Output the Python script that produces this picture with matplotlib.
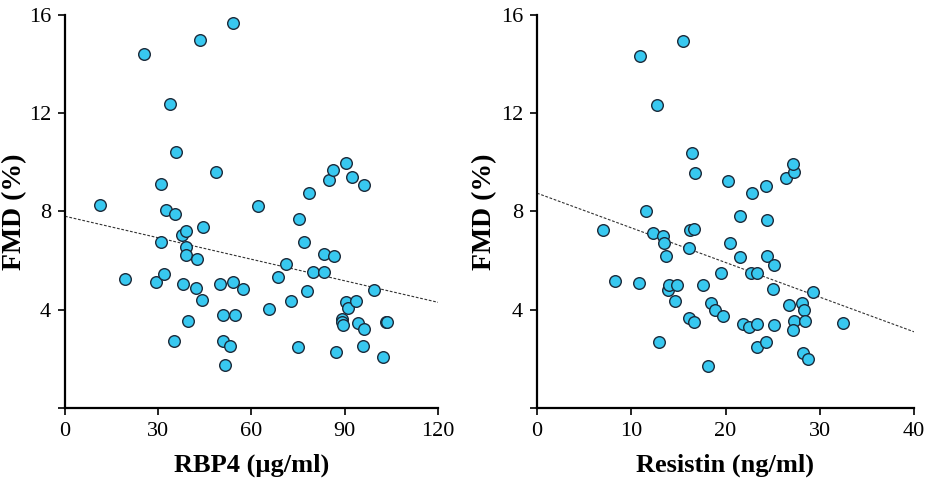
import numpy as np
import matplotlib
matplotlib.use("Agg")
import matplotlib.pyplot as plt

# RBP4 panel
rbp4 = [25.4, 43.4, 54.1, 33.9, 35.6, 48.6, 30.8, 11.4, 32.6, 35.3, 62.0, 44.4,
        37.7, 38.9, 30.8, 38.9, 38.9, 42.6, 19.2, 29.4, 31.9, 37.9, 42.1, 44.1,
        49.8, 53.9, 57.3, 39.5, 50.8, 54.7, 35.1, 50.9, 53.1, 51.4, 65.6, 68.5,
        71.0, 72.6, 75.1, 75.3, 76.8, 78.5, 77.9, 79.7, 83.2, 83.3, 84.9, 86.3,
        86.6, 87.2, 90.4, 92.3, 96.1, 90.5, 91.0, 93.5, 89.0, 89.2, 89.4, 94.2,
        96.1, 95.8, 99.3, 103.3, 103.6, 102.4]
fmd_rbp4 = [14.39, 14.97, 15.67, 12.38, 10.43, 9.59, 9.10, 8.27, 8.07, 7.88, 8.20, 7.35,
            7.04, 7.20, 6.77, 6.56, 6.22, 6.05, 5.26, 5.13, 5.46, 5.06, 4.88, 4.41,
            5.06, 5.11, 4.85, 3.55, 3.77, 3.80, 2.74, 2.74, 2.52, 1.74, 4.04, 5.34,
            5.84, 4.35, 2.49, 7.70, 6.77, 8.76, 4.77, 5.55, 6.25, 5.55, 9.27, 9.67,
            6.20, 2.26, 9.98, 9.38, 9.06, 4.33, 4.05, 4.34, 3.62, 3.48, 3.38, 3.47,
            3.23, 2.54, 4.80, 3.48, 3.48, 2.07]
fit_rbp4 = (7.80, 4.30)  # y at x=0 and x=120

# Resistin panel
resistin = [10.96, 15.49, 12.70, 16.48, 16.80, 20.22, 22.77, 24.33, 26.38, 27.30, 27.20,
            11.53, 21.50, 24.40, 7.00, 12.31, 13.41, 13.51, 16.24, 16.64, 16.09, 20.47,
            13.69, 21.57, 24.40, 25.11, 19.49, 22.67, 23.34, 8.31, 10.86, 13.85, 13.97,
            14.89, 17.58, 14.61, 18.50, 18.89, 19.70, 25.00, 29.28, 26.70, 28.11, 28.33,
            16.09, 16.62, 21.82, 22.52, 23.34, 25.11, 27.30, 27.20, 28.40, 32.47, 12.94,
            23.38, 24.33, 28.18, 28.75, 18.15]
fmd_resistin = [14.31, 14.92, 12.34, 10.38, 9.54, 9.24, 8.73, 9.04, 9.34, 9.62, 9.93,
                8.00, 7.83, 7.65, 7.24, 7.10, 7.01, 6.72, 7.24, 7.30, 6.50, 6.72,
                6.19, 6.15, 6.19, 5.80, 5.50, 5.50, 5.50, 5.18, 5.08, 4.81, 5.02,
                5.00, 5.00, 4.36, 4.29, 3.99, 3.75, 4.85, 4.72, 4.21, 4.29, 3.98,
                3.68, 3.51, 3.40, 3.29, 3.43, 3.38, 3.52, 3.17, 3.53, 3.44, 2.69,
                2.49, 2.69, 2.22, 1.99, 1.69]
fit_resistin = (8.74, 3.10)  # y at x=0 and x=40

serif = ['Liberation Serif', 'DejaVu Serif']

fig = plt.figure(figsize=(9.28, 4.88), dpi=100)
ax1 = fig.add_axes([65 / 928, 80 / 488, 373 / 928, 393.3 / 488])
ax2 = fig.add_axes([537 / 928, 80 / 488, 377 / 928, 393.3 / 488])

panels = [
    (ax1, rbp4, fmd_rbp4, fit_rbp4, 120, [0, 30, 60, 90, 120], 'RBP4 (\u00b5g/ml)', -0.102),
    (ax2, resistin, fmd_resistin, fit_resistin, 40, [0, 10, 20, 30, 40], 'Resistin (ng/ml)', -0.106),
]

for ax, xs, ys, fit, xmax, xticks, xlabel, ylab_x in panels:
    ax.plot([0, xmax], list(fit), linestyle=(0, (2.5, 1.5)), color='#333333',
            linewidth=0.8, zorder=2)
    ax.scatter(xs, ys, s=70, facecolor='#38C8F0', edgecolor='#1b2a3a',
               linewidth=1.0, zorder=3)
    ax.set_xlim(0, xmax)
    ax.set_ylim(0, 16)
    ax.set_xticks(xticks)
    ax.set_yticks([0, 4, 8, 12, 16])
    ax.set_yticklabels(['', '4', '8', '12', '16'])
    ax.spines['top'].set_visible(False)
    ax.spines['right'].set_visible(False)
    ax.spines['left'].set_linewidth(1.6)
    ax.spines['bottom'].set_linewidth(1.6)
    ax.tick_params(direction='out', length=5, width=1.2, pad=5)
    for lab in ax.get_xticklabels() + ax.get_yticklabels():
        lab.set_family(serif)
        lab.set_fontsize(16)
    ax.set_xlabel(xlabel, family=serif, fontsize=19, fontweight='bold', labelpad=9)
    ax.set_ylabel('FMD (%)', family=serif, fontsize=20, fontweight='bold')
    ax.yaxis.set_label_coords(ylab_x, 0.5)

fig.savefig('out.png', dpi=100)
